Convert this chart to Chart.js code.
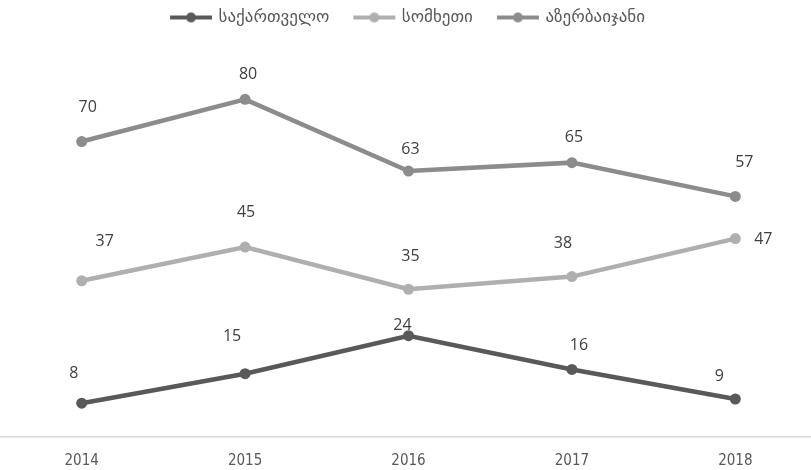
<!DOCTYPE html>
<html>
<head>
<meta charset="utf-8">
<script src="https://cdn.jsdelivr.net/npm/chart.js@4/dist/chart.umd.min.js"></script>
<style>
  html, body { margin: 0; padding: 0; overflow: hidden; background: #fff; }
  #wrap { width: 817px; height: 470px; }
</style>
</head>
<body>
<div id="wrap"><canvas id="lineChart"></canvas></div>
<script>
// categories and series values
const years = ["2014", "2015", "2016", "2017", "2018"];
const seriesNames = ["საქართველო", "სომხეთი", "აზერბაიჯანი"];
const georgiaValues = [8, 15, 24, 16, 9];
const armeniaValues = [37, 45, 35, 38, 47];
const azerbaijanValues = [70, 80, 63, 65, 57];

// where each value label sits relative to its point (dx, dy)
const labelOffsets = [
  [[-8, -30], [-13, -37], [-6, -10], [7, -24], [-16, -23]],
  [[23, -39], [1, -35], [2, -33], [-9, -33], [28, 1]],
  [[6, -34], [3, -25], [2, -22], [2, -25], [9, -34]],
];

const colors = ["#595959", "#afafaf", "#8c8c8c"];

// legend marker: short line with a dot in the middle
function legendMarker(color) {
  const c = document.createElement("canvas");
  c.width = 44;
  c.height = 12;
  const ctx = c.getContext("2d");
  ctx.strokeStyle = color;
  ctx.lineWidth = 4;
  ctx.beginPath();
  ctx.moveTo(1, 6);
  ctx.lineTo(43, 6);
  ctx.stroke();
  ctx.fillStyle = color;
  ctx.beginPath();
  ctx.arc(22, 6, 5, 0, Math.PI * 2);
  ctx.fill();
  return c;
}

const valueLabels = {
  id: "valueLabels",
  afterDatasetsDraw(chart) {
    const ctx = chart.ctx;
    ctx.save();
    ctx.font = "16px 'Open Sans'";
    ctx.fillStyle = "#404040";
    ctx.textAlign = "center";
    ctx.textBaseline = "middle";
    chart.data.datasets.forEach(function (ds, i) {
      chart.getDatasetMeta(i).data.forEach(function (pt, j) {
        const off = labelOffsets[i][j];
        ctx.fillText(ds.data[j], pt.x + off[0], pt.y + off[1]);
      });
    });
    ctx.restore();
  },
};

const allValues = [georgiaValues, armeniaValues, azerbaijanValues];

const lineData = {
  labels: years,
  datasets: allValues.map(function (vals, i) {
    return {
      label: seriesNames[i],
      data: vals,
      borderColor: colors[i],
      backgroundColor: colors[i],
      borderWidth: 4.5,
      pointRadius: 5.5,
      pointBorderWidth: 0,
      pointHoverRadius: 5.5,
      pointStyle: "circle",
      legendStyle: legendMarker(colors[i]),
      tension: 0,
    };
  }),
};

const lineConfig = {
  type: "line",
  data: lineData,
  options: {
    responsive: false,
    animation: false,
    layout: { autoPadding: false, padding: { top: -17, left: 0, right: 0, bottom: 0 } },
    plugins: {
      legend: {
        position: "top",
        labels: {
          usePointStyle: true,
          pointStyleWidth: 38,
          padding: 26,
          color: "#595959",
          font: { family: "'DejaVu Sans'", size: 17 },
          generateLabels(chart) {
            return chart.data.datasets.map(function (ds, i) {
              return {
                text: ds.label,
                fillStyle: ds.borderColor,
                strokeStyle: ds.borderColor,
                lineWidth: 0,
                pointStyle: ds.legendStyle,
                fontColor: "#595959",
                hidden: false,
                datasetIndex: i,
              };
            });
          },
        },
      },
      tooltip: { enabled: false },
    },
    scales: {
      x: {
        offset: true,
        grid: { display: false, drawTicks: false },
        border: { display: true, color: "#d9d9d9", width: 1.5 },
        ticks: {
          padding: 15,
          color: "#595959",
          font: { family: "'DejaVu Sans Condensed', sans-serif", size: 15 },
        },
        afterFit(scale) {
          scale.height = 33;
          scale.paddingLeft = 0;
          scale.paddingRight = 0;
        },
      },
      y: {
        display: false,
        min: 0,
        max: 95,
      },
    },
  },
  plugins: [valueLabels],
};

const cv = document.getElementById("lineChart");
cv.width = 817;
cv.height = 470;
var lineChart = new Chart(cv, lineConfig);
</script>
</body>
</html>
